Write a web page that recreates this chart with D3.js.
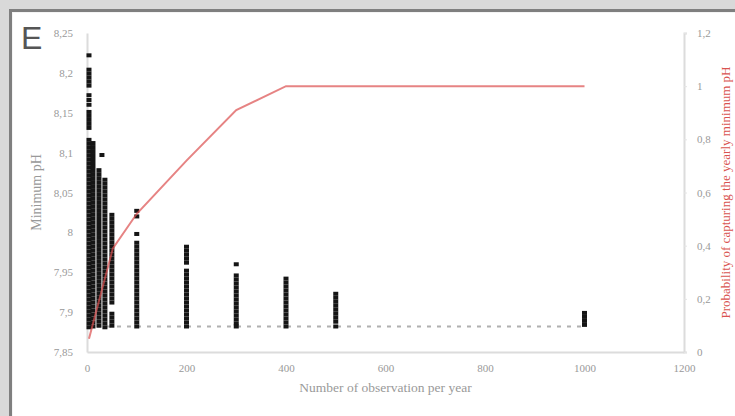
<!DOCTYPE html>
<html>
<head>
<meta charset="utf-8">
<script src="https://cdn.jsdelivr.net/npm/d3@7"></script>
<style>
body{margin:0;background:#d9d9d9;}
text{font-family:"Liberation Serif",serif;}
</style>
</head>
<body>
<div id="chart"></div>
<script>
// axis ticks
const xTicks=[0,200,400,600,800,1000,1200];
const phTicks=[7.85,7.9,7.95,8,8.05,8.1,8.15,8.2,8.25];
const probTicks=[0,0.2,0.4,0.6,0.8,1,1.2];

// minimum pH found for each number of observations per year
const obsPerYear=[4,12,24,30,36,50,100,200,300,400,500,1000];
const minPh4=[8.222,8.204,8.199,8.194,8.189,8.184,8.172,8.166,8.160,8.151,8.146,8.141,8.136,8.131,
  8.116,8.111,8.106,8.101,8.096,8.091,8.086,8.081,8.076,8.071,8.066,8.061,8.056,8.051,8.046,8.041,
  8.036,8.031,8.026,8.021,8.016,8.011,8.006,8.001,7.996,7.991,7.986,7.981,7.976,7.971,7.966,7.961,
  7.956,7.951,7.946,7.941,7.936,7.931,7.926,7.921,7.916,7.911,7.906,7.901,7.896,7.891,7.886,7.881];
const minPh12=[8.112,8.107,8.102,8.097,8.092,8.087,8.082,8.077,8.072,8.067,8.062,8.057,8.052,8.047,
  8.042,8.037,8.032,8.027,8.022,8.017,8.012,8.007,8.002,7.997,7.992,7.987,7.982,7.977,7.972,7.967,
  7.962,7.957,7.952,7.947,7.942,7.937,7.932,7.927,7.922,7.917,7.912,7.907,7.902,7.897,7.892,7.887,7.882];
const minPh24=[8.078,8.073,8.068,8.063,8.058,8.053,8.048,8.043,8.038,8.033,8.028,8.023,8.018,8.013,
  8.008,8.003,7.998,7.993,7.988,7.983,7.978,7.973,7.968,7.963,7.958,7.953,7.948,7.943,7.938,7.933,
  7.928,7.923,7.918,7.913,7.908,7.903,7.898,7.893,7.888,7.883];
const minPh30=[8.097];
const minPh36=[8.066,8.061,8.056,8.051,8.046,8.041,8.036,8.031,8.026,8.021,8.016,8.011,8.006,8.001,
  7.996,7.991,7.986,7.981,7.976,7.971,7.966,7.961,7.956,7.951,7.946,7.941,7.936,7.931,7.926,7.921,
  7.916,7.911,7.906,7.901,7.896,7.891,7.886,7.881];
const minPh50=[8.022,8.017,8.012,8.007,8.002,7.997,7.992,7.987,7.982,7.977,7.972,7.967,7.962,7.957,
  7.952,7.947,7.942,7.937,7.932,7.927,7.922,7.917,7.912,7.898,7.893,7.888,7.883];
const minPh100=[8.027,8.020,7.998,7.987,7.982,7.977,7.972,7.967,7.962,7.957,7.952,7.947,7.942,7.937,
  7.932,7.927,7.922,7.917,7.912,7.907,7.902,7.897,7.892,7.887,7.882];
const minPh200=[7.982,7.977,7.972,7.967,7.962,7.952,7.947,7.942,7.937,7.932,7.927,7.922,7.917,7.912,
  7.907,7.902,7.897,7.892,7.887,7.882];
const minPh300=[7.960,7.946,7.941,7.936,7.931,7.926,7.921,7.916,7.911,7.906,7.901,7.896,7.891,7.886,7.882];
const minPh400=[7.942,7.937,7.932,7.927,7.922,7.917,7.912,7.907,7.902,7.897,7.892,7.887,7.882];
const minPh500=[7.923,7.918,7.913,7.908,7.903,7.898,7.893,7.888,7.882];
const minPh1000=[7.899,7.894,7.889,7.884];
const minPhCols=[minPh4,minPh12,minPh24,minPh30,minPh36,minPh50,minPh100,minPh200,minPh300,minPh400,minPh500,minPh1000];

// true yearly minimum (dotted reference)
const refX=[0,1000];
const refPh=7.882;

// probability of capturing the yearly minimum pH
const probX=[4,52,100,200,300,400,500,1000];
const probY=[0.05,0.39,0.52,0.72,0.91,1,1,1];

const W=735,H=416;
const plot={left:87,right:684,top:33,bottom:352};

const svg=d3.select("#chart").append("svg")
  .attr("width",W).attr("height",H);

// frame
svg.append("rect").attr("width",W).attr("height",H).attr("fill","#d9d9d9");
svg.append("rect").attr("x",9).attr("y",9).attr("width",W).attr("height",H).attr("fill","#7f7f7f");
svg.append("rect").attr("x",12).attr("y",12).attr("width",W).attr("height",H).attr("fill","#f4f4f4");
svg.append("rect").attr("x",13).attr("y",13).attr("width",W).attr("height",H).attr("fill","#fff");

const x=d3.scaleLinear().domain([0,1200]).range([plot.left,plot.right]);
const yL=d3.scaleLinear().domain([7.85,8.25]).range([plot.bottom,plot.top]);
const yR=d3.scaleLinear().domain([0,1.2]).range([plot.bottom,plot.top]);

const comma=d=>String(+d.toFixed(2)).replace(".",",");

function styleAxis(g){
  g.select(".domain").attr("stroke","#dcdcdc").attr("stroke-width",2);
  g.selectAll(".tick line").attr("stroke","#e4e4e4");
  g.selectAll(".tick text").attr("fill","#999")
    .style("font-family","Liberation Serif").style("font-size","11px");
}

svg.append("g")
  .attr("transform","translate(0,"+plot.bottom+")")
  .call(d3.axisBottom(x).tickValues(xTicks).tickFormat(d3.format("d")).tickSize(0).tickPadding(12))
  .call(styleAxis);

svg.append("g")
  .attr("transform","translate("+plot.left+",0)")
  .call(d3.axisLeft(yL).tickValues(phTicks).tickFormat(comma).tickSize(0).tickPadding(14))
  .call(styleAxis);

svg.append("g")
  .attr("transform","translate("+plot.right+",0)")
  .call(d3.axisRight(yR).tickValues(probTicks).tickFormat(comma).tickSize(3).tickPadding(10))
  .call(styleAxis);

// dotted reference line
svg.append("line")
  .attr("x1",x(refX[0])).attr("x2",x(refX[1]))
  .attr("y1",yL(refPh)).attr("y2",yL(refPh))
  .attr("stroke","#b0b0b0").attr("stroke-width",2)
  .attr("stroke-dasharray","4,6");

// scatter of minimum pH
const pts=[];
obsPerYear.forEach((n,i)=>{
  minPhCols[i].forEach(v=>pts.push([n,v]));
});
svg.append("g").selectAll("rect")
  .data(pts)
  .enter()
  .append("rect")
  .attr("x",d=>x(d[0])-2.5)
  .attr("y",d=>yL(d[1])-2)
  .attr("width",5)
  .attr("height",4)
  .attr("fill","#151515");

// probability line
const line=d3.line()
  .x(d=>x(d[0]))
  .y(d=>yR(d[1]));
svg.append("path")
  .datum(probX.map((v,i)=>[v,probY[i]]))
  .attr("d",line)
  .attr("fill","none")
  .attr("stroke","#dc4f4f")
  .attr("stroke-opacity",0.7)
  .attr("stroke-width",2);

// titles
svg.append("text")
  .attr("x",(plot.left+plot.right)/2).attr("y",392)
  .attr("text-anchor","middle")
  .attr("fill","#999")
  .style("font-size","13.5px")
  .text("Number of observation per year");

svg.append("text")
  .attr("transform","translate(41,"+(plot.top+plot.bottom)/2+") rotate(-90)")
  .attr("text-anchor","middle")
  .attr("fill","#999")
  .style("font-size","14px")
  .text("Minimum pH");

svg.append("text")
  .attr("transform","translate(730,"+(plot.top+plot.bottom)/2+") rotate(-90)")
  .attr("text-anchor","middle")
  .attr("fill","#d9534f")
  .style("font-size","13px")
  .text("Probability of capturing the yearly minimum pH");

svg.append("text")
  .attr("x",21).attr("y",49)
  .attr("fill","#555")
  .style("font-family","Liberation Sans")
  .style("font-size","32px")
  .text("E");
</script>
</body>
</html>
